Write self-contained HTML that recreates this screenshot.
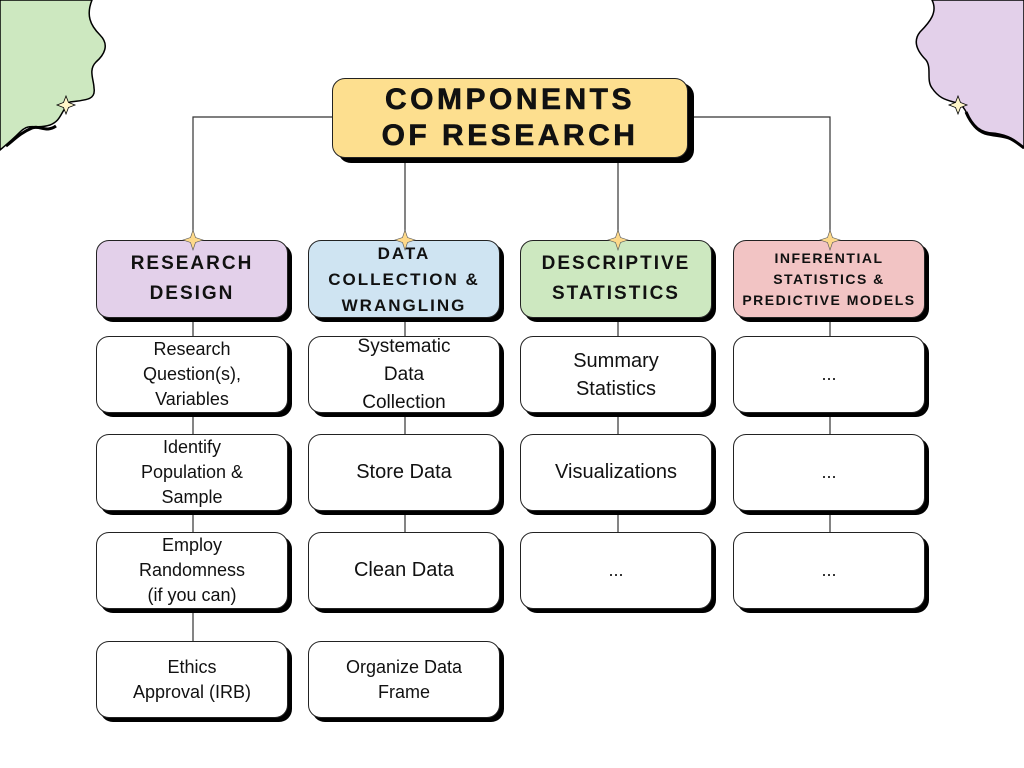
<!DOCTYPE html>
<html><head><meta charset="utf-8"><style>
*{margin:0;padding:0;box-sizing:border-box}
body{width:1024px;height:768px;background:#fff;position:relative;overflow:hidden;font-family:"Liberation Sans",sans-serif}
.b{position:absolute;border:1.3px solid #222;border-radius:13px;background:#fff;box-shadow:4px 4px 0 #000;display:flex;align-items:center;justify-content:center;text-align:center;color:#111;font-size:18px;line-height:25px}
.h{font-weight:bold;letter-spacing:2px;font-size:19px;line-height:30px}
svg{position:absolute;left:0;top:0}
</style></head><body>
<svg width="1024" height="768">
<path d="M0,0 L92,0 C86,15 90,25 100,35 C110,45 104,55 96,62 C88,70 94,80 94,88 C96,100 86,100 70,102 C60,112 62,120 50,125 C35,130 30,122 20,132 C12,140 6,145 0,150 Z" fill="#cde8c0" stroke="#000" stroke-width="1.5"/>
<path d="M6,146 C14,140 20,133 32,128 C40,125 46,133 56,126" fill="none" stroke="#000" stroke-width="3"/>
<path d="M1024,0 L932,0 C938,12 930,22 920,32 C912,42 918,52 926,60 C932,68 926,80 932,88 C940,100 948,100 960,104 C970,112 968,128 985,134 C1000,138 1010,135 1024,148 Z" fill="#e3d0ea" stroke="#000" stroke-width="1.5"/>
<path d="M966,112 C972,126 980,134 995,134 C1008,136 1014,140 1024,148" fill="none" stroke="#000" stroke-width="3"/>
<path d="M66,96 L68.5,102.5 L75,105 L68.5,107.5 L66,114 L63.5,107.5 L57,105 L63.5,102.5 Z" fill="#fff6c8" stroke="#000" stroke-width="0.8"/>
<path d="M958,96 L960.5,102.5 L967,105 L960.5,107.5 L958,114 L955.5,107.5 L949,105 L955.5,102.5 Z" fill="#fff6c8" stroke="#000" stroke-width="0.8"/>
<polyline points="193,240 193,117 332,117" fill="none" stroke="#333" stroke-width="1.2"/>
<polyline points="830,240 830,117 688,117" fill="none" stroke="#333" stroke-width="1.2"/>
<line x1="405" y1="158" x2="405" y2="240" stroke="#333" stroke-width="1.2"/>
<line x1="618" y1="158" x2="618" y2="240" stroke="#333" stroke-width="1.2"/>
<line x1="193" y1="318" x2="193" y2="641" stroke="#333" stroke-width="1.2"/>
<line x1="405" y1="318" x2="405" y2="532" stroke="#333" stroke-width="1.2"/>
<line x1="618" y1="318" x2="618" y2="532" stroke="#333" stroke-width="1.2"/>
<line x1="830" y1="318" x2="830" y2="532" stroke="#333" stroke-width="1.2"/>
</svg>
<div class="b h" style="left:332px;top:78px;width:356px;height:80px;background:#fddf8f;font-size:30px;line-height:36px;letter-spacing:3.5px;box-shadow:6px 5px 0 #000;-webkit-text-stroke:0.6px #111">COMPONENTS<br>OF RESEARCH</div>

<div class="b h" style="left:96px;top:240px;width:192px;height:78px;background:#e3d0ea">RESEARCH<br>DESIGN</div>
<div class="b h" style="left:308px;top:240px;width:192px;height:78px;background:#cfe4f2;font-size:17px;line-height:26px;padding-top:2px">DATA<br>COLLECTION &amp;<br>WRANGLING</div>
<div class="b h" style="left:520px;top:240px;width:192px;height:78px;background:#cde8c0">DESCRIPTIVE<br>STATISTICS</div>
<div class="b h" style="left:733px;top:240px;width:192px;height:78px;background:#f2c4c4;font-size:14px;line-height:21px;letter-spacing:1.5px">INFERENTIAL<br>STATISTICS &amp;<br>PREDICTIVE MODELS</div>

<svg width="1024" height="768">
<g fill="#fdd98a" stroke="#555" stroke-width="0.6">
<path d="M193,230 L195.5,237.5 L203,240 L195.5,242.5 L193,250 L190.5,242.5 L183,240 L190.5,237.5 Z"/>
<path d="M405,230 L407.5,237.5 L415,240 L407.5,242.5 L405,250 L402.5,242.5 L395,240 L402.5,237.5 Z"/>
<path d="M618,230 L620.5,237.5 L628,240 L620.5,242.5 L618,250 L615.5,242.5 L608,240 L615.5,237.5 Z"/>
<path d="M830,230 L832.5,237.5 L840,240 L832.5,242.5 L830,250 L827.5,242.5 L820,240 L827.5,237.5 Z"/>
</g></svg>

<div class="b" style="left:96px;top:336px;width:192px;height:77px">Research<br>Question(s),<br>Variables</div>
<div class="b" style="left:96px;top:434px;width:192px;height:77px">Identify<br>Population &amp;<br>Sample</div>
<div class="b" style="left:96px;top:532px;width:192px;height:77px">Employ<br>Randomness<br>(if you can)</div>
<div class="b" style="left:96px;top:641px;width:192px;height:77px">Ethics<br>Approval (IRB)</div>

<div class="b" style="left:308px;top:336px;width:192px;height:77px;font-size:19px;line-height:28px">Systematic<br>Data<br>Collection</div>
<div class="b" style="left:308px;top:434px;width:192px;height:77px;font-size:20px">Store Data</div>
<div class="b" style="left:308px;top:532px;width:192px;height:77px;font-size:20px">Clean Data</div>
<div class="b" style="left:308px;top:641px;width:192px;height:77px">Organize Data<br>Frame</div>

<div class="b" style="left:520px;top:336px;width:192px;height:77px;font-size:20px;line-height:28px">Summary<br>Statistics</div>
<div class="b" style="left:520px;top:434px;width:192px;height:77px;font-size:20px">Visualizations</div>
<div class="b" style="left:520px;top:532px;width:192px;height:77px">...</div>

<div class="b" style="left:733px;top:336px;width:192px;height:77px">...</div>
<div class="b" style="left:733px;top:434px;width:192px;height:77px">...</div>
<div class="b" style="left:733px;top:532px;width:192px;height:77px">...</div>
</body></html>
